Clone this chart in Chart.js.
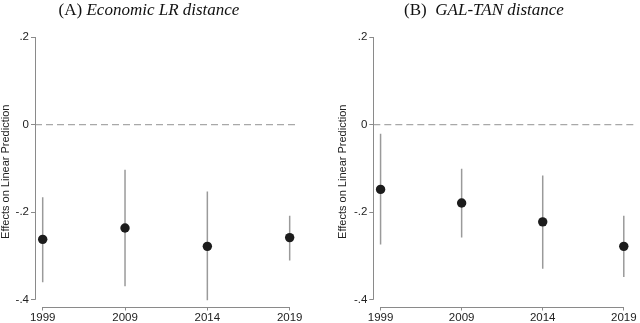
<!DOCTYPE html>
<html>
<head>
<meta charset="utf-8">
<script src="https://cdn.jsdelivr.net/npm/chart.js@4/dist/chart.umd.min.js"></script>
<style>
  html, body { margin: 0; padding: 0; background: #fff; }
  #wrap { position: relative; width: 640px; height: 323px; overflow: hidden; }
  .panel { position: absolute; top: 0; width: 320px; height: 323px; }
  .title { position: absolute; top: 1px; font-family: "Liberation Serif", "Times New Roman", serif; font-size: 17px; line-height: 17px; color: #111; white-space: pre; transform: translateX(-50%); }
  .title i { font-style: italic; }
</style>
</head>
<body>
<div id="wrap">
  <div class="panel" style="left:0"><canvas id="cA" width="320" height="323"></canvas></div>
  <div class="panel" style="left:320px"><canvas id="cB" width="320" height="323"></canvas></div>
  <div class="title" style="left:149px">(A) <i>Economic LR distance</i></div>
  <div class="title" style="left:484px">(B)  <i>GAL-TAN distance</i></div>
</div>
<script>
// ---- data ----
const years = ["1999", "2009", "2014", "2019"];
const yTicks = [0.2, 0, -0.2, -0.4];
const yTickLabels = [".2", "0", "-.2", "-.4"];
const yAxisTitle = "Effects on Linear Prediction";

// Panel A: Economic LR distance
const econEst = [-0.262, -0.236, -0.278, -0.258];
const econLo  = [-0.360, -0.369, -0.401, -0.310];
const econHi  = [-0.166, -0.103, -0.153, -0.208];

// Panel B: GAL-TAN distance
const galEst = [-0.148, -0.179, -0.222, -0.278];
const galLo  = [-0.274, -0.258, -0.329, -0.348];
const galHi  = [-0.021, -0.101, -0.116, -0.208];

// ---- styling ----
const axisColor = "#8a8a8a";
const ciColor = "#9a9a9a";
const dotColor = "#1c1c1c";
const refColor = "#a8a8a8";
const textColor = "#222";

const axisLinePlugin = {
  id: "axisLines",
  afterDraw(chart) {
    const { ctx, chartArea, scales } = chart;
    const x = scales.x, y = scales.y;
    ctx.save();
    ctx.strokeStyle = axisColor;
    ctx.lineWidth = 1;
    ctx.beginPath();
    const ax = Math.round(chartArea.left) + 0.5;
    ctx.moveTo(ax, y.getPixelForValue(yTicks[0]));
    ctx.lineTo(ax, y.getPixelForValue(yTicks[yTicks.length - 1]));
    const ay = Math.round(chartArea.bottom) + 0.5;
    ctx.moveTo(x.getPixelForValue(0), ay);
    ctx.lineTo(x.getPixelForValue(years.length - 1), ay);
    ctx.stroke();
    ctx.restore();
  }
};

function makePanel(canvasId, est, lo, hi, opts) {
  const ciData = [];
  est.forEach((_, i) => {
    ciData.push({ x: i, y: lo[i] }, { x: i, y: hi[i] }, { x: i, y: null });
  });
  const pts = est.map((v, i) => ({ x: i, y: v }));
  const ref = [{ x: opts.xmin, y: 0 }, { x: opts.xmax, y: 0 }];

  new Chart(document.getElementById(canvasId), {
    type: "scatter",
    data: {
      datasets: [
        { data: ref, showLine: true, borderColor: refColor, borderWidth: 1.2, borderDash: [7, 4], pointRadius: 0, order: 3 },
        { data: ciData, showLine: true, spanGaps: false, borderColor: ciColor, borderWidth: 1.5, pointRadius: 0, order: 2 },
        { data: pts, pointRadius: 4.7, pointBackgroundColor: dotColor, pointBorderColor: dotColor, pointBorderWidth: 0, order: 1 }
      ]
    },
    options: {
      responsive: false,
      animation: false,
      devicePixelRatio: 1,
      layout: { padding: { top: 37, left: opts.padLeft, right: opts.padRight, bottom: 0 } },
      plugins: { legend: { display: false }, tooltip: { enabled: false }, title: { display: false } },
      scales: {
        x: {
          type: "linear",
          min: opts.xmin, max: opts.xmax,
          afterBuildTicks: (s) => { s.ticks = years.map((_, i) => ({ value: i })); },
          afterFit: (s) => { s.height = 323 - 306.5; },
          ticks: { callback: (v) => years[v], color: textColor, font: { family: "Liberation Sans", size: 11.5 }, padding: 0, maxRotation: 0, autoSkip: false },
          grid: { display: true, drawOnChartArea: false, drawTicks: true, tickLength: 4, color: axisColor, lineWidth: 1 },
          border: { display: false }
        },
        y: {
          type: "linear",
          min: -0.4153, max: 0.2,
          afterBuildTicks: (s) => { s.ticks = yTicks.map(v => ({ value: v })); },
          afterFit: (s) => { s.width = opts.yWidth; },
          ticks: { callback: (v) => { const k = yTicks.findIndex(t => Math.abs(t - v) < 1e-9); return k >= 0 ? yTickLabels[k] : ""; }, color: textColor, font: { family: "Liberation Sans", size: 11.5 }, padding: 2 },
          grid: { display: true, drawOnChartArea: false, drawTicks: true, tickLength: 4, color: axisColor, lineWidth: 1 },
          border: { display: false },
          title: { display: true, text: yAxisTitle, color: textColor, font: { family: "Liberation Sans", size: 11, lineHeight: 1 }, padding: 0 }
        }
      }
    },
    plugins: [axisLinePlugin]
  });
}

makePanel("cA", econEst, econLo, econHi, { xmin: -0.0935, xmax: 3.089, padLeft: 0, padRight: 23, yWidth: 35 });
makePanel("cB", galEst, galLo, galHi, { xmin: -0.0897, xmax: 3.142, padLeft: 17, padRight: 0, yWidth: 36.3 });
</script>
</body>
</html>
